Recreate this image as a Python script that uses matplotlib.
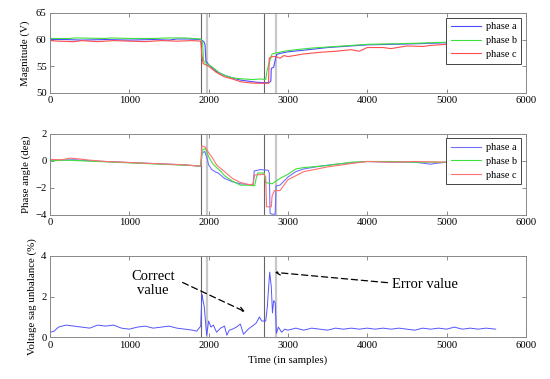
import matplotlib.pyplot as plt

plt.rcParams['font.family'] = ['Liberation Serif', 'DejaVu Serif']
plt.rcParams['font.size'] = 7.7

# vertical event markers (samples)
ev_dark = [1910, 2700]
ev_light = [1975, 2850]

# magnitude (V)
mag_x_a = [0, 200, 400, 700, 1000, 1300, 1500, 1600, 1750, 1900, 1940, 1955, 1965, 2000, 2100, 2200, 2300,
           2400, 2500, 2600, 2700, 2760, 2785, 2790, 2820, 2845, 2860, 2900, 3000, 3200, 3500, 3800, 4000,
           4300, 4600, 5000, 5300, 5620]
mag_a = [60.0, 60.0, 59.9, 60.0, 59.9, 60.0, 59.9, 60.1, 60.1, 60.0, 59.6, 59.0, 56.0, 55.3, 54.0, 53.3, 52.8,
         52.4, 52.2, 52.0, 51.9, 51.9, 52.2, 54.6, 54.8, 56.5, 57.2, 57.4, 57.7, 58.0, 58.5, 58.8, 59.0,
         59.1, 59.2, 59.4, 59.5, 59.5]
mag_x_b = [0, 250, 300, 700, 750, 1000, 1300, 1500, 1700, 1900, 1925, 1935, 1980, 2050, 2150, 2250, 2350,
           2450, 2550, 2650, 2720, 2735, 2760, 2800, 2860, 2950, 3100, 3300, 3500, 3800, 4000, 4300, 4600,
           5000, 5300, 5620]
mag_b = [60.2, 60.2, 60.3, 60.2, 60.3, 60.2, 60.2, 60.3, 60.3, 60.1, 59.3, 56.0, 55.4, 54.8, 53.6, 53.0, 52.7,
         52.6, 52.5, 52.6, 52.5, 54.0, 55.5, 57.3, 57.5, 57.8, 58.1, 58.4, 58.6, 58.9, 59.1, 59.2, 59.3,
         59.5, 59.5, 59.6]
mag_x_c = [0, 100, 300, 400, 600, 800, 1000, 1200, 1400, 1600, 1800, 1900, 1915, 1930, 2000, 2100, 2200,
           2300, 2400, 2500, 2600, 2700, 2755, 2765, 2800, 2850, 2900, 2950, 3000, 3200, 3400, 3600, 3800,
           3900, 4000, 4200, 4300, 4500, 4700, 4800, 5000, 5300, 5620]
mag_c = [59.8, 59.7, 59.6, 59.8, 59.6, 59.8, 59.7, 59.6, 59.8, 59.7, 59.8, 59.7, 57.0, 55.5, 55.0, 53.8, 53.0,
         52.6, 52.1, 51.9, 51.8, 51.8, 51.8, 56.5, 56.8, 56.8, 56.5, 57.0, 56.8, 57.3, 57.6, 57.8, 58.1,
         57.8, 58.5, 58.5, 58.3, 58.8, 58.7, 58.9, 59.1, 59.2, 59.3]

# phase angle (deg)
ph_x_a = [0, 150, 300, 500, 700, 900, 1100, 1300, 1500, 1700, 1900, 1915, 1925, 1950, 1980, 2000, 2040,
          2080, 2120, 2160, 2200, 2300, 2400, 2500, 2560, 2575, 2650, 2750, 2765, 2775, 2800, 2840, 2850,
          2900, 3000, 3100, 3200, 3400, 3600, 3800, 4000, 4300, 4600, 4800, 4850, 5000, 5300, 5620]
ph_a = [0.05, 0.05, 0.08, 0.0, -0.05, -0.1, -0.15, -0.2, -0.25, -0.3, -0.4, 0.5, 0.6, 0.7, 0.2, -0.3, -0.65,
        -0.8, -0.9, -1.1, -1.3, -1.55, -1.7, -1.75, -1.8, -0.75, -0.65, -0.7, -0.9, -3.9, -3.95, -3.95, -1.85,
        -1.8, -1.2, -0.8, -0.6, -0.4, -0.25, -0.15, -0.05, -0.1, -0.1, -0.25, -0.2, -0.1, -0.1, -0.1]
ph_x_b = [0, 200, 400, 600, 800, 1000, 1200, 1400, 1600, 1800, 1900, 1920, 1960, 2000, 2050, 2100, 2150,
          2200, 2300, 2400, 2500, 2580, 2600, 2620, 2700, 2720, 2800, 2850, 2900, 3000, 3100, 3200, 3500,
          3800, 4000, 4300, 4600, 5000, 5300, 5620]
ph_b = [0.0, 0.05, 0.0, -0.05, -0.1, -0.15, -0.2, -0.25, -0.3, -0.35, -0.4, 0.8, 0.9, 0.3, -0.2, -0.5, -0.75,
        -1.1, -1.5, -1.8, -1.8, -1.85, -1.3, -0.9, -0.9, -1.6, -1.7, -1.5, -1.3, -1.0, -0.6, -0.5, -0.35,
        -0.1, -0.05, -0.05, -0.1, -0.1, -0.1, -0.1]
ph_x_c = [0, 150, 250, 350, 500, 700, 900, 1100, 1300, 1500, 1700, 1900, 1915, 1960, 2000, 2050, 2100,
          2200, 2300, 2400, 2500, 2560, 2580, 2700, 2720, 2730, 2790, 2800, 2830, 2900, 3000, 3200, 3500,
          3800, 4000, 4300, 4600, 5000, 5300, 5620]
ph_c = [0.1, 0.08, 0.2, 0.15, 0.05, -0.05, -0.1, -0.15, -0.2, -0.25, -0.3, -0.4, 1.1, 1.0, 0.6, 0.2, -0.3,
        -0.8, -1.3, -1.6, -1.75, -1.75, -1.05, -1.0, -1.2, -3.4, -3.4, -2.6, -2.2, -2.2, -1.4, -0.8, -0.45,
        -0.2, -0.05, -0.1, -0.05, -0.1, -0.1, -0.1]

# voltage sag unbalance (%)
unb_x = [0, 50, 105, 200, 300, 400, 500, 600, 700, 800, 900, 1000, 1100, 1200, 1300, 1400, 1500, 1600,
         1700, 1800, 1850, 1900, 1915, 1925, 1945, 1960, 1975, 2000, 2030, 2060, 2100, 2150, 2200, 2230,
         2260, 2300, 2350, 2400, 2440, 2500, 2550, 2600, 2640, 2670, 2720, 2740, 2770, 2790, 2805, 2820,
         2840, 2855, 2880, 2920, 2960, 3000, 3100, 3200, 3300, 3400, 3500, 3600, 3700, 3800, 3900, 4000,
         4100, 4200, 4300, 4400, 4500, 4600, 4700, 4800, 4900, 5000, 5100, 5200, 5300, 5400, 5500, 5620]
unb = [0.25, 0.3, 0.5, 0.6, 0.55, 0.5, 0.45, 0.6, 0.55, 0.6, 0.45, 0.4, 0.5, 0.55, 0.45, 0.5, 0.55, 0.45,
       0.4, 0.35, 0.3, 0.55, 2.1, 1.9, 1.5, 0.8, 0.1, 0.8, 0.5, 0.6, 0.25, 0.45, 0.55, 0.1,
       0.35, 0.4, 0.5, 0.65, 0.15, 0.4, 0.55, 0.7, 1.0, 0.8, 0.8, 1.5, 3.2, 2.5, 1.2, 1.8,
       1.7, 0.2, 0.5, 0.25, 0.4, 0.35, 0.45, 0.35, 0.45, 0.4, 0.35, 0.45, 0.4, 0.45, 0.4, 0.45,
       0.4, 0.45, 0.4, 0.45, 0.4, 0.35, 0.45, 0.4, 0.45, 0.4, 0.5, 0.4, 0.45, 0.4, 0.45, 0.4]

col_a, col_b, col_c = '#4d4dff', '#3ee03e', '#ff4d4d'

fig = plt.figure(figsize=(5.5, 3.79), dpi=100)
ax1 = fig.add_axes([0.091, 0.755, 0.865, 0.211])
ax2 = fig.add_axes([0.091, 0.433, 0.865, 0.214])
ax3 = fig.add_axes([0.091, 0.110, 0.865, 0.215])

for ax in (ax1, ax2, ax3):
    for x in ev_dark:
        ax.axvline(x, color='#666666', lw=0.8, zorder=1)
    for x in ev_light:
        ax.axvline(x, color='#c8c8c8', lw=1.6, zorder=1)
    ax.set_xlim(0, 6000)
    ax.set_xticks(range(0, 6001, 1000))
    ax.tick_params(direction='in', top=True, right=True, length=3, width=0.6,
                   color='#777777', labelsize=7.7, pad=2.5)
    for s in ax.spines.values():
        s.set_color('#888888')
        s.set_linewidth(0.7)

ax1.plot(mag_x_a, mag_a, color=col_a, lw=0.8, label='phase a')
ax1.plot(mag_x_b, mag_b, color=col_b, lw=0.8, label='phase b')
ax1.plot(mag_x_c, mag_c, color=col_c, lw=0.8, label='phase c')
ax1.set_ylim(50, 65)
ax1.set_yticks([50, 55, 60, 65])
ax1.set_ylabel('Magnitude (V)', fontsize=7.8, labelpad=4)

ax2.plot(ph_x_a, ph_a, color='#7070ff', lw=0.8, label='phase a')
ax2.plot(ph_x_b, ph_b, color=col_b, lw=0.8, label='phase b')
ax2.plot(ph_x_c, ph_c, color='#ff7070', lw=0.8, label='phase c')
ax2.set_ylim(-4, 2)
ax2.set_yticks([-4, -2, 0, 2])
ax2.set_ylabel('Phase angle (deg)', fontsize=7.8, labelpad=3)

for ax in (ax1, ax2):
    leg = ax.legend(loc='upper right', fontsize=7.4, fancybox=False, framealpha=1,
                    borderpad=0.45, labelspacing=0.45, handlelength=3.0, handletextpad=0.4,
                    borderaxespad=0.45)
    leg.get_frame().set_edgecolor('#444444')
    leg.get_frame().set_linewidth(0.7)

ax3.plot(unb_x, unb, color='#5555ff', lw=0.7)
ax3.set_ylim(0, 4)
ax3.set_yticks([0, 2, 4])
ax3.set_ylabel('Voltage sag unbalance (%)', fontsize=7.8, labelpad=3)
ax3.set_xlabel('Time (in samples)', fontsize=7.8, labelpad=4)

ax3.annotate('', xy=(2490, 1.2), xytext=(1640, 2.75),
             arrowprops=dict(arrowstyle='->', linestyle=(0, (5, 3)), color='black', lw=0.9))
ax3.text(1300, 2.65, 'Correct\nvalue', ha='center', va='center', fontsize=10.5, linespacing=1.1)
ax3.annotate('', xy=(2800, 3.2), xytext=(4290, 2.67),
             arrowprops=dict(arrowstyle='->', linestyle=(0, (5, 3)), color='black', lw=0.9))
ax3.text(4310, 2.6, 'Error value', ha='left', va='center', fontsize=10.5)

fig.savefig('out.png', dpi=100)
